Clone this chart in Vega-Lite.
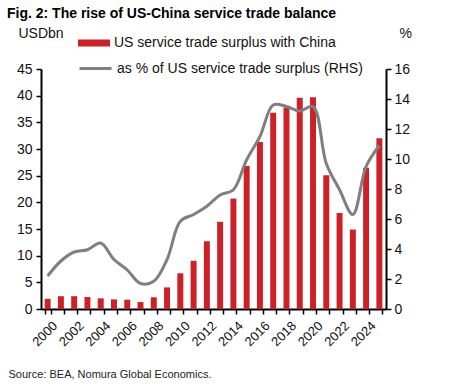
{
  "$schema": "https://vega.github.io/schema/vega-lite/v6.json",
  "width": 345,
  "height": 240,
  "autosize": {"type": "none"},
  "padding": {"left": 41, "top": 69, "right": 68, "bottom": 75},
  "background": "white",
  "config": {
    "font": "Liberation Sans",
    "view": {"stroke": null},
    "axis": {"labelFont": "Liberation Sans", "titleFont": "Liberation Sans", "labelColor": "#111", "domainColor": "#000", "tickColor": "#000", "grid": false}
  },
  "title": {
    "text": "Fig. 2: The rise of US-China service trade balance",
    "anchor": "start",
    "frame": "group",
    "fontSize": 14,
    "fontWeight": "bold",
    "font": "Liberation Sans",
    "color": "#000",
    "dx": -34,
    "offset": -6,
    "baseline": "alphabetic"
  },
  "data": {
    "values": [
      {"year": "2000", "surplus": 1.9, "pct": 2.2},
      {"year": "2001", "surplus": 2.4, "pct": 3.2},
      {"year": "2002", "surplus": 2.4, "pct": 3.8},
      {"year": "2003", "surplus": 2.25, "pct": 3.95},
      {"year": "2004", "surplus": 2.0, "pct": 4.4},
      {"year": "2005", "surplus": 1.8, "pct": 3.3},
      {"year": "2006", "surplus": 1.75, "pct": 2.6},
      {"year": "2007", "surplus": 1.3, "pct": 1.7},
      {"year": "2008", "surplus": 2.2, "pct": 1.85},
      {"year": "2009", "surplus": 4.05, "pct": 3.3},
      {"year": "2010", "surplus": 6.7, "pct": 5.85},
      {"year": "2011", "surplus": 9.05, "pct": 6.3},
      {"year": "2012", "surplus": 12.7, "pct": 6.85},
      {"year": "2013", "surplus": 16.35, "pct": 7.6},
      {"year": "2014", "surplus": 20.7, "pct": 7.95},
      {"year": "2015", "surplus": 26.8, "pct": 9.95},
      {"year": "2016", "surplus": 31.3, "pct": 11.5},
      {"year": "2017", "surplus": 36.8, "pct": 13.6},
      {"year": "2018", "surplus": 37.8, "pct": 13.5},
      {"year": "2019", "surplus": 39.6, "pct": 13.2},
      {"year": "2020", "surplus": 39.7, "pct": 13.5},
      {"year": "2021", "surplus": 25.1, "pct": 9.7},
      {"year": "2022", "surplus": 18.0, "pct": 7.95},
      {"year": "2023", "surplus": 14.9, "pct": 6.3},
      {"year": "2024", "surplus": 26.5, "pct": 9.5},
      {"year": "2025", "surplus": 32.0, "pct": 10.9}
    ]
  },
  "encoding": {
    "x": {
      "field": "year",
      "type": "ordinal",
      "scale": {"paddingInner": 0.55, "paddingOuter": 0.275},
      "axis": {
        "labelAngle": -45,
        "labelAlign": "right",
        "labelBaseline": "top",
        "labelFontSize": 13,
        "labelExpr": "toNumber(datum.value) % 2 == 0 ? datum.value : ''",
        "labelPadding": 5,
        "labelOffset": 3,
        "tickBand": "extent",
        "tickSize": 5,
        "domainWidth": 2,
        "tickWidth": 1.5,
        "title": "Source: BEA, Nomura Global Economics.",
        "titleFontSize": 11,
        "titleFontWeight": "normal",
        "titleColor": "#222",
        "titleAnchor": "start",
        "titleAlign": "left",
        "titleBaseline": "alphabetic",
        "titleX": -33,
        "titleY": 68
      }
    }
  },
  "layer": [
    {
      "mark": {"type": "bar"},
      "encoding": {
        "y": {
          "field": "surplus",
          "type": "quantitative",
          "scale": {"domain": [0, 45], "nice": false},
          "axis": {
            "values": [0, 5, 10, 15, 20, 25, 30, 35, 40, 45],
            "labelFontSize": 14,
            "tickSize": 5,
            "labelPadding": 4,
            "domainWidth": 2,
            "tickWidth": 1.5,
            "title": "USDbn",
            "titleFontSize": 14,
            "titleFontWeight": "normal",
            "titleAngle": 0,
            "titleAlign": "left",
            "titleBaseline": "alphabetic",
            "titleX": -23,
            "titleY": -32,
            "titleColor": "#111"
          }
        },
        "color": {
          "datum": "US service trade surplus with China",
          "type": "nominal",
          "scale": {"range": ["#CC2127"]},
          "legend": {
            "orient": "none",
            "legendX": 37,
            "legendY": -42,
            "title": null,
            "labelFontSize": 14,
            "labelColor": "#111",
            "labelLimit": 0,
            "symbolType": "M-1,-0.22H1V0.22H-1Z",
            "symbolSize": 1024,
            "symbolStrokeWidth": 0,
            "labelOffset": 4,
            "padding": 0
          }
        }
      }
    },
    {
      "mark": {"type": "line", "interpolate": "catmull-rom", "strokeWidth": 3},
      "encoding": {
        "y": {
          "field": "pct",
          "type": "quantitative",
          "scale": {"domain": [0, 16], "nice": false},
          "axis": {
            "orient": "right",
            "values": [0, 2, 4, 6, 8, 10, 12, 14, 16],
            "labelFontSize": 14,
            "tickSize": 5,
            "labelPadding": 3,
            "domainWidth": 2,
            "tickWidth": 1.5,
            "title": "%",
            "titleFontSize": 14,
            "titleFontWeight": "normal",
            "titleAngle": 0,
            "titleAlign": "left",
            "titleBaseline": "alphabetic",
            "titleX": 13,
            "titleY": -32,
            "titleColor": "#111"
          }
        },
        "stroke": {
          "datum": "as % of US service trade surplus (RHS)",
          "type": "nominal",
          "scale": {"range": ["#7F7F7F"]},
          "legend": {
            "orient": "none",
            "legendX": 37,
            "legendY": -18,
            "title": null,
            "labelFontSize": 14,
            "labelColor": "#111",
            "labelLimit": 0,
            "symbolType": "stroke",
            "symbolSize": 1024,
            "symbolStrokeWidth": 3,
            "labelOffset": 4,
            "padding": 0
          }
        }
      }
    }
  ],
  "resolve": {"scale": {"y": "independent", "color": "independent"}}
}
